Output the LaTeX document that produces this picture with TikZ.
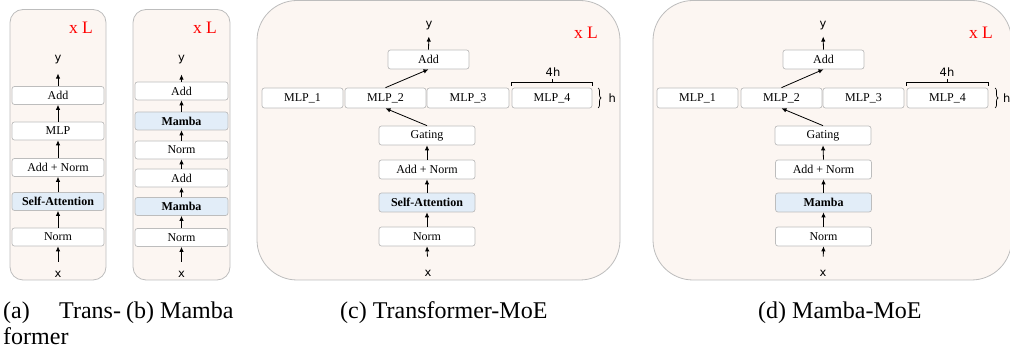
\documentclass[tikz,border=0pt]{standalone}
\usepackage{fontspec}
\setmainfont{Liberation Serif}
\newfontfamily\lblfont{DejaVu Sans}
\usetikzlibrary{arrows.meta,decorations.pathreplacing}
\definecolor{panelfill}{HTML}{FCF6F2}
\definecolor{panelline}{HTML}{BDBDBD}
\definecolor{boxline}{HTML}{BDBDBD}
\definecolor{hilite}{HTML}{E2EDF8}
\begin{document}
\begin{tikzpicture}[x=1pt,y=-1pt,
 panel/.style={draw=panelline, fill=panelfill, line width=0.8pt},
 blk/.style={draw=boxline, fill=white, rounded corners=2.5pt, line width=0.7pt, minimum height=18pt, inner sep=0pt, font=\fontsize{12}{12}\selectfont},
 hl/.style={blk, fill=hilite, font=\fontsize{12}{12}\selectfont\bfseries},
 lbl/.style={font=\lblfont\fontsize{11.5}{11.5}\selectfont, inner sep=0pt},
 xl/.style={text=red, font=\fontsize{17.5}{17.5}\selectfont, inner sep=0pt},
 arr/.style={-{Latex[length=5pt,width=4.5pt]}, line width=0.8pt},
 bkt/.style={line width=0.7pt},
 captxt/.style={font=\fontsize{24}{24}\selectfont, inner sep=0pt, anchor=base west}]

\useasboundingbox (0,0) rectangle (1010,352);
\clip (0,0) rectangle (1010,352);

% ---------- (a) Transformer ----------
\draw[panel, rounded corners=13pt] (10,9.5) rectangle (106,280);
\node[xl] (aL) at (81,28) {x L};
\node[blk, minimum width=92pt] (aAdd) at (58,95.5) {Add};
\node[blk, minimum width=92pt] (aMLP) at (58,131) {MLP};
\node[blk, minimum width=92pt] (aAN) at (58,167.5) {Add + Norm};
\node[hl, minimum width=92pt] (aSA) at (58,201.5) {Self-Attention};
\node[blk, minimum width=92pt] (aN) at (58,237) {Norm};
\node[lbl] (ay) at (58,60) {y};
\node[lbl] (ax) at (58,274) {x};
\draw[arr, shorten <=9pt] (ax.north) -- (aN.south);
\draw[arr] (aN.north) -- (aSA.south);
\draw[arr] (aSA.north) -- (aAN.south);
\draw[arr] (aAN.north) -- (aMLP.south);
\draw[arr] (aMLP.north) -- (aAdd.south);
\draw[arr, shorten >=9pt] (aAdd.north) -- (ay.south);

% ---------- (b) Mamba ----------
\draw[panel, rounded corners=13pt] (133,9.5) rectangle (230,280);
\node[xl] (bL) at (205,28) {x L};
\node[blk, minimum width=93pt] (bAdd2) at (181.5,91) {Add};
\node[hl, minimum width=93pt] (bM2) at (181.5,121) {Mamba};
\node[blk, minimum width=93pt] (bN2) at (181.5,150) {Norm};
\node[blk, minimum width=93pt] (bAdd1) at (181.5,178) {Add};
\node[hl, minimum width=93pt] (bM1) at (181.5,206.5) {Mamba};
\node[blk, minimum width=93pt] (bN1) at (181.5,237.5) {Norm};
\node[lbl] (by) at (181.5,60) {y};
\node[lbl] (bx) at (181.5,274) {x};
\draw[arr, shorten <=9pt] (bx.north) -- (bN1.south);
\draw[arr] (bN1.north) -- (bM1.south);
\draw[arr] (bM1.north) -- (bAdd1.south);
\draw[arr] (bAdd1.north) -- (bN2.south);
\draw[arr] (bN2.north) -- (bM2.south);
\draw[arr] (bM2.north) -- (bAdd2.south);
\draw[arr, shorten >=10pt] (bAdd2.north) -- (by.south);

% ---------- (c) Transformer-MoE ----------
\draw[panel, rounded corners=40pt] (257,0.5) rectangle (620,280);
\node[xl] (cL) at (586,33) {x L};
\node[blk, minimum width=81pt, minimum height=19pt] (cAdd) at (428.5,59.5) {Add};
\node[blk, minimum width=81pt, minimum height=20pt] (cM1) at (302.5,98) {MLP\_1};
\node[blk, minimum width=81pt, minimum height=20pt] (cM2) at (385.5,98) {MLP\_2};
\node[blk, minimum width=82pt, minimum height=20pt] (cM3) at (468,98) {MLP\_3};
\node[blk, minimum width=80pt, minimum height=20pt] (cM4) at (552,98) {MLP\_4};
\node[blk, minimum width=96pt, minimum height=19pt] (cG) at (427,135.5) {Gating};
\node[blk, minimum width=96pt, minimum height=19pt] (cAN) at (427,169.5) {Add + Norm};
\node[hl, minimum width=96pt, minimum height=19pt] (cSA) at (427,202.5) {Self-Attention};
\node[blk, minimum width=96pt, minimum height=19pt] (cN) at (427,236.5) {Norm};
\node[lbl] (cy) at (429,26) {y};
\node[lbl] (cx) at (428,273) {x};
\node[lbl] (c4h) at (553,72) {4h};
\node[lbl, anchor=west] (ch) at (608.5,98) {h};
\draw[arr, shorten <=13pt] (cx.north) -- (cN.south);
\draw[arr] (cN.north) -- (cSA.south);
\draw[arr] (cSA.north) -- (cAN.south);
\draw[arr] (cAN.north) -- (cG.south);
\draw[arr] (cG.north) -- (cM2.south);
\draw[arr] (cM2.north) -- (cAdd.south);
\draw[arr, shorten >=6pt] (cAdd.north) -- (cy.south);
\draw[bkt] ([yshift=2pt]cM4.north west) -- ([yshift=5pt]cM4.north west) -- ([yshift=5pt]cM4.north east) -- ([yshift=2pt]cM4.north east);
\draw[bkt] ([yshift=5pt]cM4.north) -- ([yshift=8.5pt]cM4.north);
\draw[bkt, decorate, decoration={brace, amplitude=3pt}] (598,88) -- (598,108);

% ---------- (d) Mamba-MoE ----------
\draw[panel, rounded corners=40pt] (653,0.5) rectangle (1011.5,280);
\node[xl] (dL) at (981,33) {x L};
\node[blk, minimum width=81pt, minimum height=19pt] (dAdd) at (823.5,59.5) {Add};
\node[blk, minimum width=81pt, minimum height=20pt] (dM1) at (697.5,98) {MLP\_1};
\node[blk, minimum width=81pt, minimum height=20pt] (dM2) at (781.5,98) {MLP\_2};
\node[blk, minimum width=81pt, minimum height=20pt] (dM3) at (863.5,98) {MLP\_3};
\node[blk, minimum width=81pt, minimum height=20pt] (dM4) at (947.5,98) {MLP\_4};
\node[blk, minimum width=96pt, minimum height=19pt] (dG) at (823,135.5) {Gating};
\node[blk, minimum width=96pt, minimum height=19pt] (dAN) at (823.5,169.5) {Add + Norm};
\node[hl, minimum width=96pt, minimum height=19pt] (dMa) at (823.5,202.5) {Mamba};
\node[blk, minimum width=96pt, minimum height=19pt] (dN) at (823.5,236.5) {Norm};
\node[lbl] (dy) at (823,26) {y};
\node[lbl] (dx) at (823,273) {x};
\node[lbl] (d4h) at (947,72) {4h};
\node[lbl, anchor=west] (dh) at (1003,98) {h};
\draw[arr, shorten <=13pt] (dx.north) -- (dN.south);
\draw[arr] (dN.north) -- (dMa.south);
\draw[arr] (dMa.north) -- (dAN.south);
\draw[arr] (dAN.north) -- (dG.south);
\draw[arr] (dG.north) -- (dM2.south);
\draw[arr] (dM2.north) -- (dAdd.south);
\draw[arr, shorten >=6pt] (dAdd.north) -- (dy.south);
\draw[bkt] ([yshift=2pt]dM4.north west) -- ([yshift=5pt]dM4.north west) -- ([yshift=5pt]dM4.north east) -- ([yshift=2pt]dM4.north east);
\draw[bkt] ([yshift=5pt]dM4.north) -- ([yshift=8.5pt]dM4.north);
\draw[bkt, decorate, decoration={brace, amplitude=3pt}] (995,88) -- (995,108);

% ---------- captions ----------
\node[captxt] (capa) at (3,319) {(a)};
\node[captxt] (capa2) at (59,319) {Trans-};
\node[captxt] (capa3) at (3,345) {former};
\node[captxt] (capb) at (126,319) {(b) Mamba};
\node[captxt] (capc) at (340,319) {(c) Transformer-MoE};
\node[captxt] (capd) at (758,319) {(d) Mamba-MoE};
\end{tikzpicture}
\end{document}
